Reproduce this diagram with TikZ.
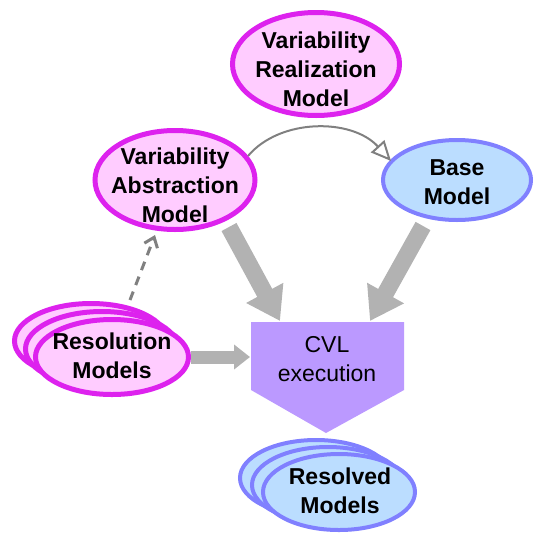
\documentclass[tikz,border=0pt]{standalone}
\usepackage{fontspec}
\setmainfont{Liberation Sans}
\usetikzlibrary{shapes.geometric,arrows.meta}
\definecolor{pinkfill}{HTML}{FFCCFF}
\definecolor{magborder}{HTML}{DD22EE}
\definecolor{bluefill}{HTML}{BBDDFF}
\definecolor{blueborder}{HTML}{8080FF}
\definecolor{cvlfill}{HTML}{BB99FF}
\definecolor{blockgray}{HTML}{B2B2B2}
\definecolor{linegray}{HTML}{808080}
\tikzset{
  lbl/.style={font=\fontsize{23}{29}\selectfont\bfseries, align=center},
  pinkell/.style={ellipse, draw=magborder, fill=pinkfill, line width=5pt, inner sep=0pt},
  blueell/.style={ellipse, draw=blueborder, fill=bluefill, line width=4pt, inner sep=0pt},
  blockarrow/.style={draw=blockgray, line width=17pt, line cap=butt,
    -{Triangle[width=40pt,length=32pt,fill=blockgray]}},
  smallblock/.style={draw=blockgray, line width=13pt, line cap=butt,
    -{Triangle[width=24pt,length=16pt,fill=blockgray]}},
}
\begin{document}
\begin{tikzpicture}[x=1pt,y=-1pt]
\useasboundingbox (0,0) rectangle (534,533);
% CVL execution shape
\fill[cvlfill] (251,322) -- (404,322) -- (404,390) -- (326,433) -- (251,390) -- cycle;
\node[font=\fontsize{23}{29}\selectfont, align=center] (cvl) at (327,359) {CVL\\execution};
\coordinate (cvlL) at (280,321);
\coordinate (cvlR) at (370,321);
\coordinate (cvlW) at (250,357);
% top ellipses
\node[pinkell, minimum width=167pt, minimum height=103pt] (vrm) at (316,64) {};
\node[lbl] (vrmt) at (316,69) {Variability\\Realization\\Model};
\node[pinkell, minimum width=160pt, minimum height=99pt] (vam) at (175,180) {};
\node[lbl] (vamt) at (175,185) {Variability\\Abstraction\\Model};
\node[blueell, minimum width=148pt, minimum height=80pt] (base) at (457,180) {};
\node[lbl] (baset) at (457,182) {Base\\Model};
% resolution stack
\node[pinkell, minimum width=153pt, minimum height=75pt] (res3) at (91,341) {};
\node[pinkell, minimum width=153pt, minimum height=75pt] (res2) at (102,349) {};
\node[pinkell, minimum width=153pt, minimum height=75pt] (res) at (112,357) {};
\node[lbl] (rest) at (112,356) {Resolution\\Models};
% resolved stack
\node[blueell, minimum width=152pt, minimum height=76pt] (rsd3) at (316,478) {};
\node[blueell, minimum width=152pt, minimum height=76pt] (rsd2) at (328,485) {};
\node[blueell, minimum width=152pt, minimum height=76pt] (rsd) at (339,492) {};
\node[lbl] (rsdt) at (340,491) {Resolved\\Models};
% block arrows
\coordinate (vamS) at (229,227);
\coordinate (baseS) at (423,226);
\draw[blockarrow] (vamS) -- (cvlL);
\draw[blockarrow] (baseS) -- (cvlR);
\draw[smallblock] (res.east) -- (cvlW);
% curved arrow
\coordinate (vamNE) at (248,156);
\coordinate (baseNW) at (391,161);
\draw[linegray, line width=2pt, -{Triangle[open, fill=white, width=18pt, length=20pt]}]
  (vamNE) .. controls (280,118) and (352,118) .. (baseNW);
% dashed arrow
\coordinate (resTop) at (130,300);
\coordinate (vamSW) at (155,235);
\draw[linegray, line width=3pt, dash pattern=on 9pt off 7pt, -{Straight Barb[length=9pt,width=14pt]}]
  (resTop) -- (vamSW);
\end{tikzpicture}
\end{document}
